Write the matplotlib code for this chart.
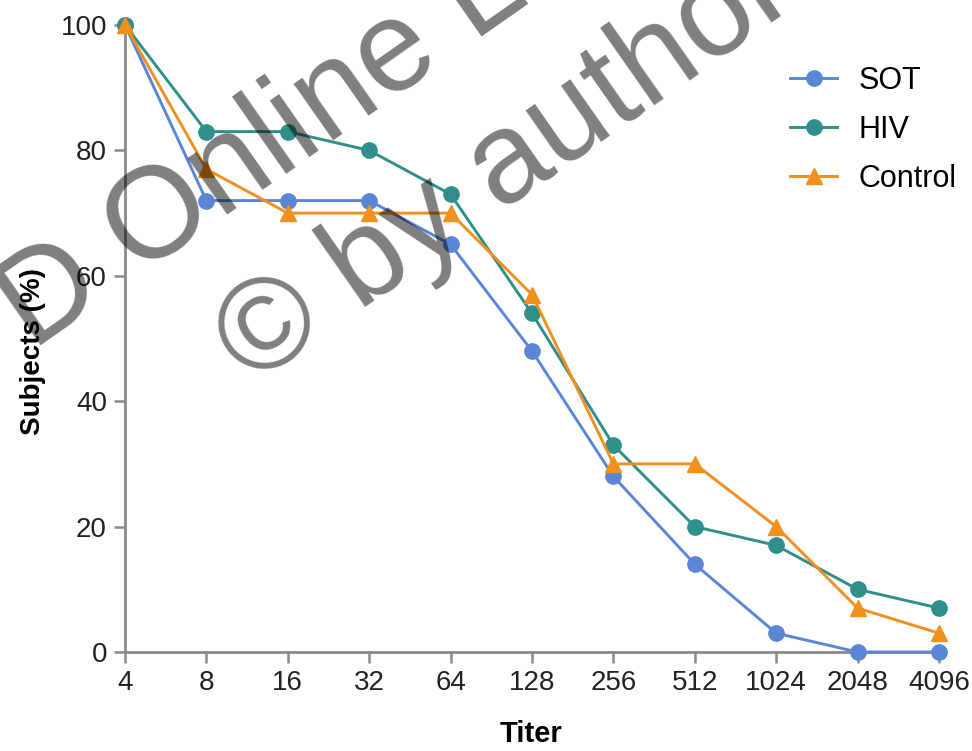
import matplotlib
matplotlib.use("Agg")
import matplotlib.pyplot as plt

plt.rcParams['font.family'] = ['Liberation Sans', 'DejaVu Sans']

titers = ["4", "8", "16", "32", "64", "128", "256", "512", "1024", "2048", "4096"]
sot = [100, 72, 72, 72, 65, 48, 28, 14, 3, 0, 0]
hiv = [100, 83, 83, 80, 73, 54, 33, 20, 17, 10, 7]
control = [100, 77, 70, 70, 70, 57, 30, 30, 20, 7, 3]
yticks = [0, 20, 40, 60, 80, 100]

W, H = 972, 751
fig = plt.figure(figsize=(W/100, H/100), dpi=100)
ax = fig.add_axes([125/W, 1-652/H, (939-125)/W, (652-25)/H])

x = list(range(len(titers)))
ax.plot(x, sot, color='#5B86D6', marker='o', markersize=11, lw=2.1, label='SOT', clip_on=False, zorder=3)
ax.plot(x, hiv, color='#2E8F8B', marker='o', markersize=11, lw=2.1, label='HIV', clip_on=False, zorder=3)
ax.plot(x, control, color='#F0901E', marker='^', markersize=11, lw=2.1, label='Control', clip_on=False, zorder=4)

ax.set_xlim(0, 10)
ax.set_ylim(0, 100)
ax.set_xticks(x)
ax.set_xticklabels(titers)
ax.set_yticks(yticks)
for s in ['top', 'right']:
    ax.spines[s].set_visible(False)
for s in ['left', 'bottom']:
    ax.spines[s].set_color('#8a8a8a')
    ax.spines[s].set_linewidth(2)
ax.tick_params(axis='both', colors='#8a8a8a', length=8, width=1.8, labelsize=20, labelcolor='#222222', pad=5)

ax.set_xlabel('Titer', fontsize=21, fontweight='bold')
ax.xaxis.set_label_coords(0.4988, -0.1077)
ax.set_ylabel('Subjects (%)', fontsize=20, fontweight='bold')
ax.yaxis.set_label_coords(-0.097, 0.4785)

leg = ax.legend(loc='upper left', bbox_to_anchor=(790/W, 1-66/H), bbox_transform=fig.transFigure,
                frameon=False, fontsize=22, borderpad=0, borderaxespad=0,
                handlelength=1.55, handletextpad=0.7, labelspacing=0.62)

# watermark overlay
fig.text(0.2706, 0.8016, 'D Online L', fontsize=93, color='black', alpha=0.5,
         rotation=35, rotation_mode='anchor', ha='center', va='center', zorder=10)
fig.text(0.5216, 0.7776, '© by author', fontsize=93, color='black', alpha=0.5,
         rotation=35, rotation_mode='anchor', ha='center', va='center', zorder=10)

fig.savefig('out.png', dpi=100)
